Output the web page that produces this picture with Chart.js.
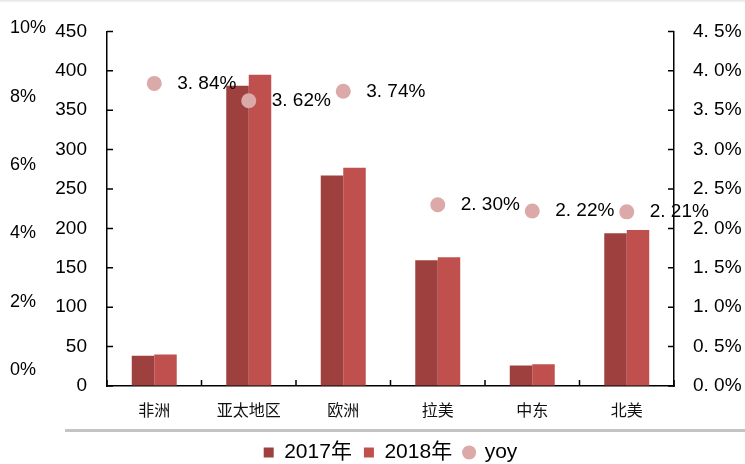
<!DOCTYPE html>
<html>
<head>
<meta charset="utf-8">
<script src="https://cdn.jsdelivr.net/npm/chart.js@4.4.1/dist/chart.umd.min.js"></script>
<style>
html, body { margin: 0; padding: 0; background: #fff; }
#wrap { position: relative; width: 745px; height: 464px; }
#topbar { position: absolute; left: 0; top: 0; width: 745px; height: 3px; background: linear-gradient(#e4e4e4, #fff); }
#sep { position: absolute; left: 65px; top: 429px; width: 680px; height: 3px; background: #c4c4c4; }
</style>
</head>
<body>
<div id="wrap">
  <canvas id="Chart1" width="745" height="464"></canvas>
  <div id="topbar"></div>
  <div id="sep"></div>
</div>
<script>
// data
var regions = ['非洲', '亚太地区', '欧洲', '拉美', '中东', '北美'];
var sales2017 = [38.5, 381, 267, 159.5, 26, 194];
var sales2018 = [40, 395, 277, 163.5, 27.5, 198];
var yoy = [3.84, 3.62, 3.74, 2.30, 2.22, 2.21];

// tick labels
var countTicks = [0, 50, 100, 150, 200, 250, 300, 350, 400, 450];
var rateTicks = [0, 0.5, 1, 1.5, 2, 2.5, 3, 3.5, 4, 4.5];
var pctTicks = [0, 2, 4, 6, 8, 10];

var numFont = { family: "'Liberation Sans', Arial, sans-serif", size: 19 };

function fmtRate(v, d) {
  return v.toFixed(d).replace('.', '. ') + '%';
}

// short tick marks pointing into the plot
var innerTicks = {
  id: 'innerTicks',
  afterDraw: function(chart) {
    var ctx = chart.ctx;
    var area = chart.chartArea;
    var s = chart.scales;
    ctx.save();
    ctx.strokeStyle = '#000';
    ctx.lineWidth = 1.5;
    ctx.beginPath();
    countTicks.forEach(function(v) {
      var y = s.y.getPixelForValue(v);
      ctx.moveTo(area.left, y);
      ctx.lineTo(area.left + 6, y);
    });
    rateTicks.forEach(function(v) {
      var y = s.y2.getPixelForValue(v);
      ctx.moveTo(area.right, y);
      ctx.lineTo(area.right - 6, y);
    });
    for (var i = 0; i <= regions.length; i++) {
      var x = s.x.getPixelForValue(i - 0.5);
      ctx.moveTo(x, area.bottom);
      ctx.lineTo(x, area.bottom - 6);
    }
    ctx.stroke();
    ctx.restore();
  }
};

// yoy value labels next to the dots
var yoyLabels = {
  id: 'yoyLabels',
  afterDatasetsDraw: function(chart) {
    var ctx = chart.ctx;
    var meta = chart.getDatasetMeta(2);
    ctx.save();
    ctx.font = numFont.size + 'px ' + numFont.family;
    ctx.fillStyle = '#000';
    ctx.textAlign = 'left';
    ctx.textBaseline = 'middle';
    meta.data.forEach(function(pt, i) {
      ctx.fillText(fmtRate(yoy[i], 2), pt.x + 23, pt.y);
    });
    ctx.restore();
  }
};

var ctx1 = document.getElementById('Chart1').getContext('2d');
var myChart1 = new Chart(ctx1, {
  type: 'bar',
  data: {
    labels: regions,
    datasets: [{
      label: '2017年',
      data: sales2017,
      backgroundColor: '#9E403E',
      pointStyle: 'rect',
      yAxisID: 'y',
      order: 2
    }, {
      label: '2018年',
      data: sales2018,
      backgroundColor: '#C0504D',
      pointStyle: 'rect',
      yAxisID: 'y',
      order: 2
    }, {
      type: 'line',
      label: 'yoy',
      data: yoy,
      showLine: false,
      pointStyle: 'circle',
      pointRadius: 7.5,
      pointHoverRadius: 7.5,
      pointBackgroundColor: '#DCA9A9',
      pointBorderWidth: 0,
      backgroundColor: '#DCA9A9',
      borderColor: '#DCA9A9',
      yAxisID: 'y2',
      order: 0
    }]
  },
  options: {
    responsive: false,
    animation: false,
    events: [],
    categoryPercentage: 0.476,
    barPercentage: 1,
    layout: { padding: { top: 23, left: 10, right: 0, bottom: -9 } },
    plugins: {
      tooltip: { enabled: false },
      legend: {
        position: 'bottom',
        fullSize: false,
        labels: {
          usePointStyle: true,
          boxWidth: 10,
          boxHeight: 10,
          padding: 12,
          color: '#000',
          font: { family: "'Liberation Sans', 'Noto Sans CJK SC', sans-serif", size: 21 },
          sort: function(a, b) { return a.datasetIndex - b.datasetIndex; }
        }
      }
    },
    scales: {
      x: {
        grid: { display: false },
        border: { display: true, color: '#000', width: 1.5 },
        ticks: {
          color: '#111',
          padding: 6,
          font: { family: "'Noto Sans CJK SC', sans-serif", size: 16 }
        },
        afterFit: function(scale) { scale.height = 44; }
      },
      y: {
        position: 'left',
        weight: 0,
        min: 0,
        max: 450,
        bounds: 'data',
        grid: { drawOnChartArea: false, drawTicks: false },
        border: { display: true, color: '#000', width: 1.5 },
        afterBuildTicks: function(scale) {
          scale.ticks = countTicks.map(function(v) { return { value: v }; });
        },
        ticks: { autoSkip: false, padding: 20, color: '#000', font: numFont },
        afterFit: function(scale) { scale.width = 52; }
      },
      yPct: {
        type: 'linear',
        position: 'left',
        weight: 1,
        min: -0.46,
        max: 9.91,
        bounds: 'data',
        grid: { display: false },
        border: { display: false },
        afterBuildTicks: function(scale) {
          scale.ticks = pctTicks.map(function(v) { return { value: v }; });
        },
        ticks: {
          autoSkip: false,
          crossAlign: 'far',
          color: '#000',
          font: { family: numFont.family, size: 18 },
          callback: function(v) { return v + '%'; }
        },
        afterFit: function(scale) { scale.width = 45; }
      },
      y2: {
        type: 'linear',
        position: 'right',
        min: 0,
        max: 4.5,
        bounds: 'data',
        grid: { drawOnChartArea: false, drawTicks: false },
        border: { display: true, color: '#000', width: 1.5 },
        afterBuildTicks: function(scale) {
          scale.ticks = rateTicks.map(function(v) { return { value: v }; });
        },
        ticks: {
          autoSkip: false,
          padding: 19,
          color: '#000',
          font: numFont,
          callback: function(v) { return fmtRate(v, 1); }
        },
        afterFit: function(scale) { scale.width = 71; }
      }
    }
  },
  plugins: [innerTicks, yoyLabels]
});
</script>
</body>
</html>
